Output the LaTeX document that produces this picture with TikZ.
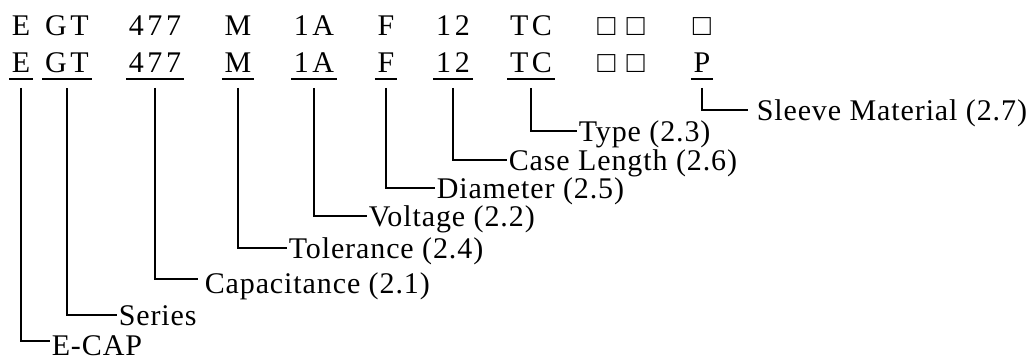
\documentclass[tikz,border=0pt]{standalone}
\usepackage{fontspec}
\setmainfont{Liberation Serif}[LetterSpace=3]

\begin{document}
\begin{tikzpicture}[x=1pt, y=1pt, line width=1.5pt,
  every node/.style={font=\fontsize{30}{30}\selectfont, inner sep=0pt},
  code/.style={anchor=base, inner xsep=2pt, inner ysep=6pt,
    font=\fontsize{30}{30}\selectfont\addfontfeatures{LetterSpace=12}},
  coded/.style={code, append after command={(\tikzlastnode.south west) edge (\tikzlastnode.south east)}},
  part/.style={anchor=west, inner xsep=1pt, text height=20pt, text depth=0pt}]

\useasboundingbox (0,0) rectangle (1030,360);

% part number as ordered
\node[code] (e1)    at (21,325)  {E};
\node[code] (ser1)  at (67,325)  {GT};
\node[code] (cap1)  at (155,325) {477};
\node[code] (tol1)  at (238,325) {M};
\node[code] (volt1) at (314,325) {1A};
\node[code] (dia1)  at (386,325) {F};
\node[code] (len1)  at (453,325) {12};
\node[code] (type1) at (531,325) {TC};
\node[code] (opt1)  at (621,325) {□ □};
\node[code] (slv1)  at (702,325) {□};

% the same number, fields marked
\node[coded] (e2)    at (21,288)  {E};
\node[coded] (ser2)  at (67,288)  {GT};
\node[coded] (cap2)  at (155,288) {477};
\node[coded] (tol2)  at (238,288) {M};
\node[coded] (volt2) at (314,288) {1A};
\node[coded] (dia2)  at (386,288) {F};
\node[coded] (len2)  at (453,288) {12};
\node[coded] (type2) at (531,288) {TC};
\node[code]  (opt2)  at (621,288) {□ □};
\node[coded] (slv2)  at (702,288) {P};

% field names
\node[part] (sleeve)  at (755,250) {Sleeve Material (2.7)};
\node[part] (typelbl) at (577,229) {Type (2.3)};
\node[part] (caselen) at (507,200) {Case Length (2.6)};
\node[part] (diam)    at (435,172) {Diameter (2.5)};
\node[part] (voltage) at (367,144) {Voltage (2.2)};
\node[part] (toler)   at (287,112) {Tolerance (2.4)};
\node[part] (capac)   at (203,77)  {Capacitance (2.1)};
\node[part] (series)  at (117,45)  {Series};
\node[part] (ecap)    at (50,15)   {E-CAP};

\draw ([yshift=-9pt]slv2.south)  |- ([xshift=-7pt]sleeve.west);
\draw ([yshift=-9pt]type2.south) |- (typelbl.west);
\draw ([yshift=-9pt]len2.south)  |- (caselen.west);
\draw ([yshift=-9pt]dia2.south)  |- (diam.west);
\draw ([yshift=-9pt]volt2.south) |- (voltage.west);
\draw ([yshift=-9pt]tol2.south)  |- (toler.west);
\draw ([yshift=-9pt]cap2.south)  |- ([shift={(-5pt,4pt)}]capac.west);
\draw ([yshift=-9pt]ser2.south)  |- (series.west);
\draw ([yshift=-9pt]e2.south)    |- ([yshift=4pt]ecap.west);

\end{tikzpicture}
\end{document}
